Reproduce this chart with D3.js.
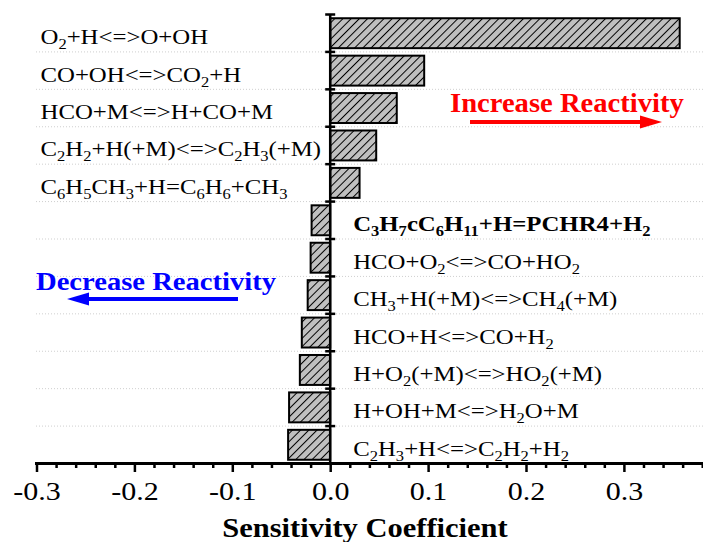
<!DOCTYPE html>
<html>
<head>
<meta charset="utf-8">
<script src="https://cdn.jsdelivr.net/npm/d3@7"></script>
<style>
  body { margin: 0; background: #fff; }
  svg text { font-family: "Liberation Serif", "Times New Roman", serif; }
</style>
</head>
<body>
<svg id="chart" width="703" height="542"></svg>
<script>
//-----------------Data----------------

// reactions from top to bottom, _{n} = subscript
const reactions = [
  "O_{2}+H<=>O+OH",
  "CO+OH<=>CO_{2}+H",
  "HCO+M<=>H+CO+M",
  "C_{2}H_{2}+H(+M)<=>C_{2}H_{3}(+M)",
  "C_{6}H_{5}CH_{3}+H=C_{6}H_{6}+CH_{3}",
  "C_{3}H_{7}cC_{6}H_{11}+H=PCHR4+H_{2}",
  "HCO+O_{2}<=>CO+HO_{2}",
  "CH_{3}+H(+M)<=>CH_{4}(+M)",
  "HCO+H<=>CO+H_{2}",
  "H+O_{2}(+M)<=>HO_{2}(+M)",
  "H+OH+M<=>H_{2}O+M",
  "C_{2}H_{3}+H<=>C_{2}H_{2}+H_{2}"
];
const sensitivity = [0.357, 0.096, 0.068, 0.047, 0.030, -0.019, -0.020, -0.023, -0.029, -0.031, -0.042, -0.043];
const boldReactions = ["C_{3}H_{7}cC_{6}H_{11}+H=PCHR4+H_{2}"];

const majorTicks = [-0.3, -0.2, -0.1, 0.0, 0.1, 0.2, 0.3];
const tickLabels = ["-0.3", "-0.2", "-0.1", "0.0", "0.1", "0.2", "0.3"];
const xTitle = "Sensitivity Coefficient";
const increaseText = "Increase Reactivity";
const decreaseText = "Decrease Reactivity";

//-----------------Setup----------------

const width = 703, height = 542;
const yTop = 14.5, yBottom = 463.5;
const svg = d3.select("#chart");

const x = d3.scaleLinear().domain([-0.3, 0.4]).range([36.5, 36.5 + 0.7 * 979]);
const y = d3.scaleBand().domain(reactions).range([yTop, yBottom]).paddingInner(0.2).paddingOuter(0.1);

const defs = svg.append("defs");
const hatch = defs.append("pattern")
  .attr("id", "hatch")
  .attr("patternUnits", "userSpaceOnUse")
  .attr("width", 5.8).attr("height", 5.8)
  .attr("patternTransform", "rotate(45)");
hatch.append("rect").attr("width", 5.8).attr("height", 5.8).attr("fill", "#c0c0c0");
hatch.append("line").attr("x1", 0.5).attr("y1", 0).attr("x2", 0.5).attr("y2", 5.8)
  .attr("stroke", "#000").attr("stroke-width", 1);

// category boundaries
const boundaries = reactions.map(d => y(d) - y.step() * 0.1).concat([yBottom]);

//-----------------Grid----------------

svg.append("g").selectAll("line")
  .data(boundaries.slice(1, -1))
  .enter().append("line")
  .attr("x1", 36).attr("x2", width)
  .attr("y1", d => d).attr("y2", d => d)
  .attr("stroke", "#cfcfcf").attr("stroke-width", 1)
  .attr("stroke-dasharray", "1,2");

//-----------------Bars----------------

svg.append("g").selectAll("rect")
  .data(reactions)
  .enter().append("rect")
  .attr("x", (d, i) => x(Math.min(0, sensitivity[i])))
  .attr("y", d => y(d))
  .attr("width", (d, i) => Math.abs(x(sensitivity[i]) - x(0)))
  .attr("height", y.bandwidth())
  .attr("fill", "url(#hatch)")
  .attr("stroke", "#000").attr("stroke-width", 2);

//-----------------Labels----------------

function addFormula(sel, str, subSize, shift) {
  const parts = str.split(/_\{(\d+)\}/);
  let down = false;
  parts.forEach((p, i) => {
    if (p === "") return;
    const t = sel.append("tspan").text(p);
    if (i % 2 === 1) {
      t.attr("font-size", subSize);
      if (!down) { t.attr("dy", shift); down = true; }
    } else if (down) {
      t.attr("dy", -shift); down = false;
    }
  });
}

reactions.forEach((d, i) => {
  const lx = sensitivity[i] > 0 ? x(-0.3) + 4 : x(0) + 23;
  const ly = y(d) + y.bandwidth() / 2 + 11;
  const t = svg.append("text")
    .attr("transform", "translate(" + lx + "," + ly + ") scale(1.18,1)")
    .attr("font-size", 21)
    .attr("font-weight", boldReactions.includes(d) ? "bold" : "normal")
    .attr("fill", "#000");
  addFormula(t, d, 14, 5);
});

//-----------------Axes----------------

// y axis line + boundary ticks
svg.append("line")
  .attr("x1", x(0)).attr("x2", x(0))
  .attr("y1", yTop).attr("y2", yBottom)
  .attr("stroke", "#000").attr("stroke-width", 2.5);

svg.append("g").selectAll("line")
  .data(boundaries)
  .enter().append("line")
  .attr("x1", x(0) - 5).attr("x2", x(0) + 5)
  .attr("y1", d => d).attr("y2", d => d)
  .attr("stroke", "#000").attr("stroke-width", 2.5);

// x axis
const minorAxis = d3.axisBottom(x)
  .tickValues(d3.range(-0.3, 0.4, 0.02).filter(v => Math.abs(Math.round(v * 10) - v * 10) > 0.01))
  .tickSize(4.5).tickSizeOuter(0).tickFormat("");
svg.append("g")
  .attr("transform", "translate(0," + yBottom + ")")
  .call(minorAxis)
  .call(g => g.select(".domain").remove())
  .selectAll("line").attr("stroke", "#000").attr("stroke-width", 2.5);

const xAxis = d3.axisBottom(x)
  .tickValues(majorTicks)
  .tickSize(8.5).tickSizeOuter(0)
  .tickFormat((d, i) => tickLabels[i]);
const gx = svg.append("g")
  .attr("transform", "translate(0," + yBottom + ")")
  .call(xAxis);
gx.select(".domain").attr("stroke", "#000").attr("stroke-width", 3)
  .attr("d", "M" + (x(-0.3) - 1.5) + ",0H" + (width + 5));
gx.selectAll(".tick line").attr("stroke", "#000").attr("stroke-width", 2.5);
gx.selectAll(".tick text")
  .attr("y", 36.5).attr("dy", 0)
  .attr("transform", "scale(1.2,1)")
  .attr("font-size", 25)
  .attr("fill", "#000");

svg.append("text")
  .attr("transform", "translate(365,537) scale(1.09,1)")
  .attr("text-anchor", "middle")
  .attr("font-size", 28).attr("font-weight", "bold")
  .text(xTitle);

//-----------------Annotations----------------

svg.append("text")
  .attr("transform", "translate(450,112) scale(1.06,1)")
  .attr("font-size", 27).attr("font-weight", "bold").attr("fill", "#ff0000")
  .text(increaseText);
svg.append("line")
  .attr("x1", 470).attr("x2", 645).attr("y1", 122).attr("y2", 122)
  .attr("stroke", "#ff0000").attr("stroke-width", 4);
svg.append("path")
  .attr("d", "M662,122L640,115.5L640,128.5Z")
  .attr("fill", "#ff0000");

svg.append("text")
  .attr("transform", "translate(36,290) scale(1.1,1)")
  .attr("font-size", 26).attr("font-weight", "bold").attr("fill", "#0000ff")
  .text(decreaseText);
svg.append("line")
  .attr("x1", 238).attr("x2", 84).attr("y1", 299).attr("y2", 299)
  .attr("stroke", "#0000ff").attr("stroke-width", 4);
svg.append("path")
  .attr("d", "M67,299L89,292.5L89,305.5Z")
  .attr("fill", "#0000ff");
</script>
</body>
</html>
